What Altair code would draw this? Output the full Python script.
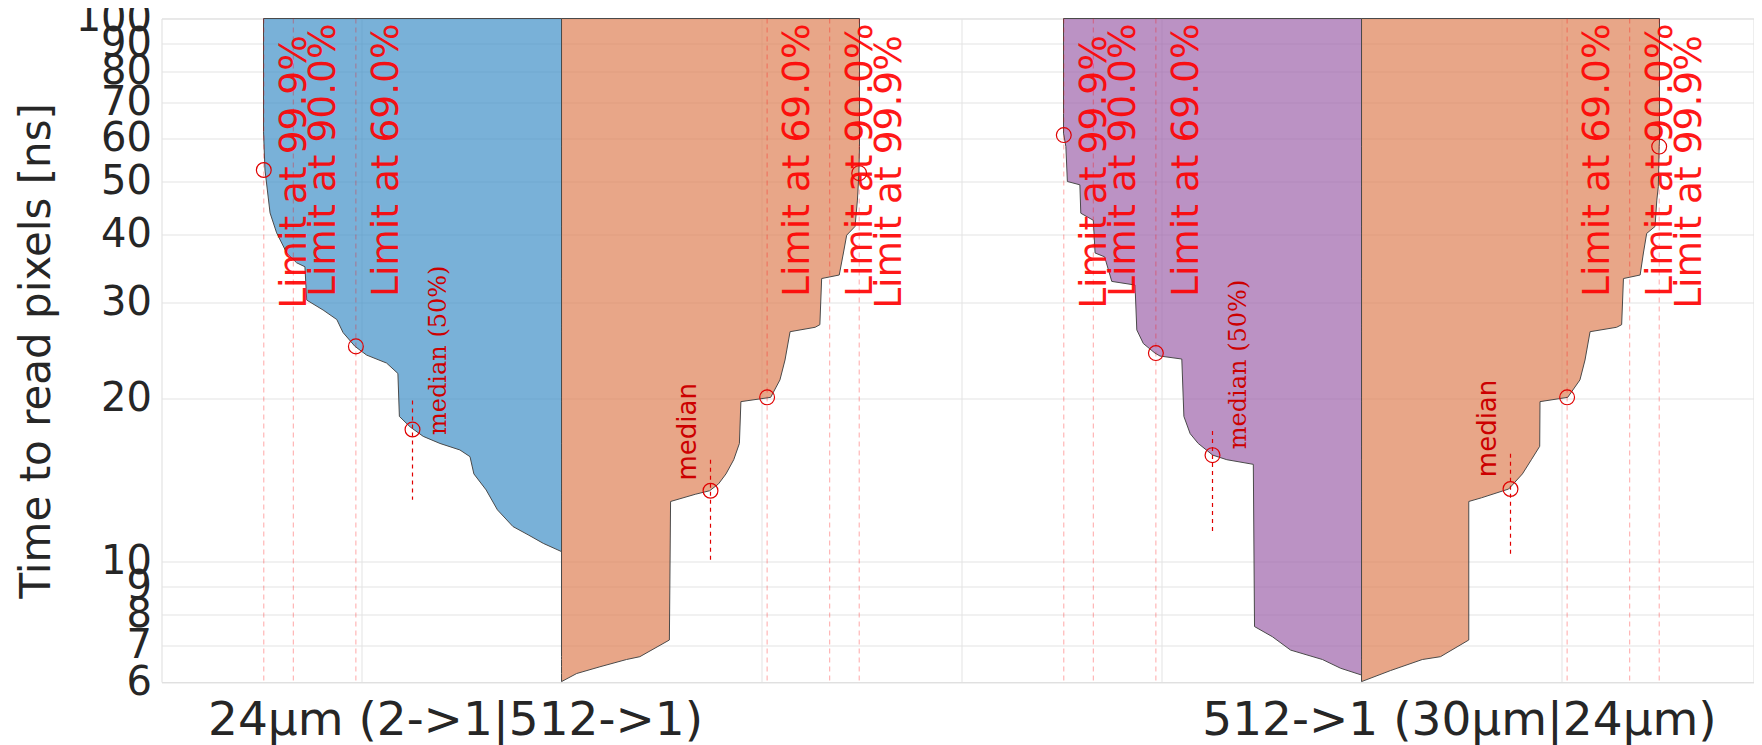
import altair as alt
import pandas as pd

# ---------------- data ----------------
group_labels = ["24µm (2->1|512->1)", "512->1 (30µm|24µm)"]
group_label_pos = [1.47, 6.49]
group_centers = [2, 6]
half_width = 1.49          # x-units that correspond to 100 %

# share of pixels (%) readable within a given time (ns)
blue_t = [100, 62, 52.6, 43.85, 40.3, 37.0, 35.5, 34.9, 30.3, 29.05, 27.9, 26.4, 24.9, 24.0,
          23.2, 22.2, 18.5, 17.7, 17.0, 16.5, 16.05, 15.6, 14.5, 13.55, 12.45, 11.6, 11.2, 10.8, 10.43]
blue_p = [100, 100, 99.5, 97.8, 95.6, 92.2, 88.9, 86.1, 85.5, 80.0, 75.4, 73.3, 69.3, 65.4,
          58.7, 54.9, 54.4, 50.8, 46.4, 40.8, 34.1, 30.7, 29.4, 25.3, 21.5, 16.3, 11.2, 6.1, 0.0]

orange1_t = [100, 58.1, 51.9, 46.3, 41.4, 39.9, 37.0, 33.7, 33.2, 27.3, 27.0, 26.5, 23.5, 21.6,
             20.06, 19.7, 16.5, 15.4, 14.5, 13.9, 13.5, 13.3, 12.9, 7.17, 6.68, 6.6, 6.4, 6.22, 6.01]
orange1_p = [100, 100, 99.8, 99.3, 98.5, 95.7, 94.6, 93.2, 87.3, 86.7, 85.1, 76.7, 75.0, 73.3,
             70.2, 60.2, 59.7, 57.8, 55.2, 52.7, 49.7, 44.9, 36.6, 36.2, 26.3, 21.8, 12.9, 5.1, 0.0]

purple_t = [100, 66.9, 61.5, 58.1, 50.1, 49.4, 43.8, 42.5, 37.0, 36.4, 32.8, 32.3, 26.7, 25.2,
            24.2, 23.9, 23.6, 18.5, 17.2, 16.5, 15.7, 15.4, 15.1, 7.59, 7.27, 6.87, 6.6, 6.36, 6.18]
purple_p = [100, 100, 100, 99.2, 98.7, 94.5, 94.2, 90.0, 89.4, 86.2, 83.8, 76.0, 75.4, 73.2,
            69.3, 67.6, 60.3, 59.6, 57.5, 54.8, 49.9, 45.2, 36.3, 35.9, 29.9, 23.8, 13.1, 7.0, 0.0]

orange2_t = [100, 59.8, 58.1, 49.0, 46.3, 41.4, 40.2, 37.0, 33.7, 33.2, 27.3, 27.0, 26.5, 23.5,
             21.6, 20.06, 19.7, 16.3, 15.4, 14.5, 13.6, 13.1, 12.9, 7.17, 6.68, 6.6, 6.3, 6.01]
orange2_p = [100, 100, 99.9, 99.6, 99.1, 98.5, 95.7, 94.6, 93.5, 87.9, 87.3, 85.6, 76.7, 75.0,
             73.3, 69.2, 59.9, 59.8, 57.0, 54.0, 49.4, 40.2, 36.0, 36.0, 26.5, 20.4, 9.8, 0.0]

half_names = ["g1_left", "g1_right", "g2_left", "g2_right"]
half_center = [2, 2, 6, 6]
half_side = [-1, 1, -1, 1]
half_colors = ["#3a8cc6", "#dd7c50", "#9b5fa8", "#dd7c50"]
half_t = [blue_t, orange1_t, purple_t, orange2_t]
half_p = [blue_p, orange1_p, purple_p, orange2_p]

limit_pcts = [99.9, 90.0, 69.0]
limit_labels = ["Limit at 99.9%", "Limit at 90.0%", "Limit at 69.0%"]
limit_text_t = [29.2, 30.7, 30.7]

# circles: 99.9 %, 69 %, median for every half
circle_pcts = [99.9, 69.0, 50.0]
circle_t = [[52.6, 24.9, 17.5], [51.9, 20.06, 13.5], [61.0, 24.2, 15.7], [58.1, 20.06, 13.6]]

# median dashed segments (top, bottom) and label start
median_seg = [[19.8, 13.0], [15.4, 10.06], [17.4, 11.3], [15.8, 10.3]]
median_text = ["median (50%)", "median", "median (50%)", "median"]
median_text_t = [17.1, 14.1, 16.1, 14.3]

y_ticks = [6, 7, 8, 9, 10, 20, 30, 40, 50, 60, 70, 80, 90, 100]
x_grid = [1, 2, 3, 4, 5, 6, 7]

# ---------------- tables ----------------
def pos(i, pct):
    return half_center[i] + half_side[i] * pct / 100.0 * half_width

rows = []
for i, name in enumerate(half_names):
    for t, p in zip(half_t[i], half_p[i]):
        rows.append({"half": name, "t": t, "x": pos(i, p), "x2": half_center[i]})
area_df = pd.DataFrame(rows).sort_values(["half", "t"]).reset_index(drop=True)

lim_rows = []
for i in range(4):
    for pct, lab, tt in zip(limit_pcts, limit_labels, limit_text_t):
        lim_rows.append({"x": pos(i, pct), "t": tt, "label": lab})
lim_df = pd.DataFrame(lim_rows)

circ_df = pd.DataFrame([{"x": pos(i, pct), "t": circle_t[i][k]}
                        for i in range(4) for k, pct in enumerate(circle_pcts)])
med_df = pd.DataFrame([{"x": pos(i, 50.0), "t": median_seg[i][0], "t2": median_seg[i][1],
                        "tt": median_text_t[i], "label": median_text[i],
                        "side": half_side[i]} for i in range(4)])
lab_df = pd.DataFrame({"label": group_labels, "x": group_label_pos})

# ---------------- chart ----------------
W, H = 1592, 663.5
xs = alt.Scale(domain=[0, 7.96], nice=False, zero=False)
ys = alt.Scale(type="log", domain=[6, 100], nice=False)

y_axis = alt.Axis(values=y_ticks, format="d", labelOverlap=False, labelFlush=False,
                  ticks=False, domain=False, grid=True, gridColor="#e3e3e3",
                  labelFont="DejaVu Sans", labelFontSize=40, labelColor="#262626",
                  labelPadding=10,
                  title="Time to read pixels [ns]", titleFont="DejaVu Sans",
                  titleFontSize=42, titleFontWeight="normal", titleColor="#262626",
                  titleX=-112, titleY=H / 2, titleAngle=270, titleAlign="center",
                  titleBaseline="alphabetic")
x_axis = alt.Axis(values=x_grid, labels=False, ticks=False, domain=False, grid=True,
                  gridColor="#e3e3e3", title="")

X = lambda f: alt.X(f, type="quantitative", scale=xs, axis=x_axis)
Y = lambda f: alt.Y(f, type="quantitative", scale=ys, axis=y_axis)

areas = alt.Chart(area_df).mark_area(
    orient="horizontal", interpolate="linear", fillOpacity=0.68,
    stroke="#4a4a4a", strokeWidth=1
).encode(
    y=Y("t"),
    x=alt.X("x:Q", scale=xs, axis=x_axis, stack=None),
    x2="x2:Q",
    fill=alt.Fill("half:N", scale=alt.Scale(domain=half_names, range=half_colors), legend=None),
)

lim_lines = alt.Chart(lim_df).mark_rule(
    color="#ff0000", opacity=0.35, strokeDash=[5, 4], strokeWidth=1
).encode(x=X("x"))

med_lines = alt.Chart(med_df).mark_rule(
    color="#e00000", strokeDash=[4, 4], strokeWidth=1.2
).encode(x=X("x"), y=Y("t"), y2="t2:Q")

circles = alt.Chart(circ_df).mark_point(
    shape="circle", filled=False, size=220, color="#e00000", strokeWidth=1.2, opacity=1
).encode(x=X("x"), y=Y("t"))

lim_text = alt.Chart(lim_df).mark_text(
    angle=270, align="left", baseline="alphabetic", dy=42,
    font="DejaVu Sans", fontSize=37.5, color="#ff0000", opacity=0.9
).encode(x=X("x"), y=Y("t"), text="label:N")

med_text_left = alt.Chart(med_df).transform_filter("datum.side < 0").mark_text(
    angle=270, align="left", baseline="alphabetic", dy=33,
    font="DejaVu Serif", fontSize=24, color="#cc0000"
).encode(x=X("x"), y=alt.Y("tt:Q", scale=ys, axis=y_axis), text="label:N")

med_text_right = alt.Chart(med_df).transform_filter("datum.side > 0").mark_text(
    angle=270, align="left", baseline="alphabetic", dy=-15,
    font="DejaVu Sans", fontSize=26, color="#cc0000"
).encode(x=X("x"), y=alt.Y("tt:Q", scale=ys, axis=y_axis), text="label:N")

x_labels = alt.Chart(lab_df).mark_text(
    align="center", baseline="alphabetic", font="DejaVu Sans", fontSize=47, color="#262626"
).encode(x=X("x"), y=alt.value(H + 53), text="label:N")

chart = alt.layer(
    areas, lim_lines, med_lines, circles, lim_text, med_text_left, med_text_right, x_labels
).properties(
    width=W, height=H,
    autosize=alt.AutoSizeParams(type="none"),
    padding={"left": 153.5, "top": 10.5, "right": 0, "bottom": 63},
).configure_view(stroke="#999999", strokeWidth=1).configure(background="white")

chart.save("out.html", embed_options={"renderer": "svg", "actions": False})
